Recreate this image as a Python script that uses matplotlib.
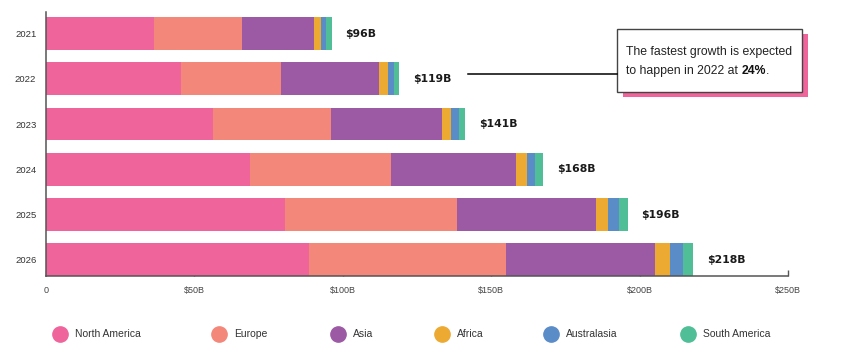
import matplotlib.pyplot as plt
import numpy as np
from matplotlib.lines import Line2D
from matplotlib.patches import Rectangle

# market size by region, $B
years = ['2021', '2022', '2023', '2024', '2025', '2026']
regions = ['North America', 'Europe', 'Asia', 'Africa', 'Australasia', 'South America']
north_america = [36.4, 45.5, 56.1, 68.7, 80.6, 88.6]
europe = [29.5, 33.8, 39.8, 47.7, 58.0, 66.3]
asia = [24.4, 33.0, 37.6, 41.9, 46.6, 50.4]
africa = [2.5, 2.9, 3.1, 3.7, 4.2, 5.1]
australasia = [1.7, 2.1, 2.4, 2.9, 3.5, 4.1]
south_america = [1.7, 1.7, 2.2, 2.7, 3.1, 3.6]
totals = ['$96B', '$119B', '$141B', '$168B', '$196B', '$218B']
xticks = [0, 50, 100, 150, 200, 250]
xtick_labels = ['0', '$50B', '$100B', '$150B', '$200B', '$250B']

colors = ['#F0649C', '#F3877A', '#9C5AA5', '#EDAA32', '#5A8CC8', '#50BE96']
series = [north_america, europe, asia, africa, australasia, south_america]

W, H = 849, 354
fig = plt.figure(figsize=(W / 100, H / 100), dpi=100)
ax = fig.add_axes([46 / W, 1 - 276 / H, 742 / W, 263.7 / H])

y = np.arange(len(years))
left = np.zeros(len(years))
for vals, c, name in zip(series, colors, regions):
    ax.barh(y, vals, left=left, height=0.725, color=c, label=name, zorder=2)
    left += np.array(vals)

# total labels at the end of each bar
for yi, tot, lab in zip(y, left, totals):
    ax.annotate(lab, (tot, yi), xytext=(10, 0), textcoords='offset points',
                ha='left', va='center', fontsize=7.8, fontweight='bold',
                family='DejaVu Sans', color='#1a1a1a')

ax.set_xlim(0, 250)
ax.set_ylim(5.36, -0.472)
ax.set_yticks(y)
ax.set_yticklabels(years)
ax.set_xticks(xticks)
ax.set_xticklabels(xtick_labels)
for s in ['top', 'right']:
    ax.spines[s].set_visible(False)
for s in ['left', 'bottom']:
    ax.spines[s].set_color('#555555')
    ax.spines[s].set_linewidth(1.1)
ax.tick_params(axis='y', length=0, pad=7, labelsize=6.8, labelcolor='#333333')
ax.tick_params(axis='x', direction='in', length=4, width=1, color='#555555',
               pad=7, labelsize=6.5, labelcolor='#444444')
for t in ax.get_xticklabels() + ax.get_yticklabels():
    t.set_family('Liberation Sans')

# callout box with pink shadow
fig.add_artist(Rectangle((622.7 / W, 1 - 97.3 / H), 185.6 / W, 63.6 / H,
                         transform=fig.transFigure, facecolor='#F0649C',
                         edgecolor='none', zorder=3))
fig.add_artist(Rectangle((616.7 / W, 1 - 92.3 / H), 185.6 / W, 63.6 / H,
                         transform=fig.transFigure, facecolor='white',
                         edgecolor='#444444', linewidth=1, zorder=4))
fig.add_artist(Line2D([468 / W, 616.7 / W], [1 - 74 / H, 1 - 74 / H],
                      transform=fig.transFigure, color='black', linewidth=1.1, zorder=4))
fig.text(626 / W, 1 - 52.3 / H, 'The fastest growth is expected', fontsize=8.8,
         family='Liberation Sans', color='#222222', va='center', zorder=5)
t1 = fig.text(626 / W, 1 - 71 / H, 'to happen in 2022 at ', fontsize=8.8,
              family='Liberation Sans', color='#222222', va='center', zorder=5)
fig.canvas.draw()
bb = t1.get_window_extent()
t2 = fig.text(bb.x1 / W, 1 - 71 / H, '24%', fontsize=8.8, fontweight='bold',
              family='Liberation Sans', color='#111111', va='center', zorder=5)
fig.canvas.draw()
bb2 = t2.get_window_extent()
fig.text(bb2.x1 / W, 1 - 71 / H, '.', fontsize=8.8,
         family='Liberation Sans', color='#222222', va='center', zorder=5)

# legend row
legend_x = [60, 219, 338, 441.7, 551, 687.7]
for lx, name, c in zip(legend_x, regions, colors):
    fig.add_artist(Line2D([lx / W], [1 - 334 / H], marker='o', markersize=11,
                          color=c, linestyle='none', transform=fig.transFigure))
    fig.text((lx + 15) / W, 1 - 334 / H, name, fontsize=7.5, family='Liberation Sans',
             color='#333333', va='center')

fig.savefig('out.png', dpi=100)
